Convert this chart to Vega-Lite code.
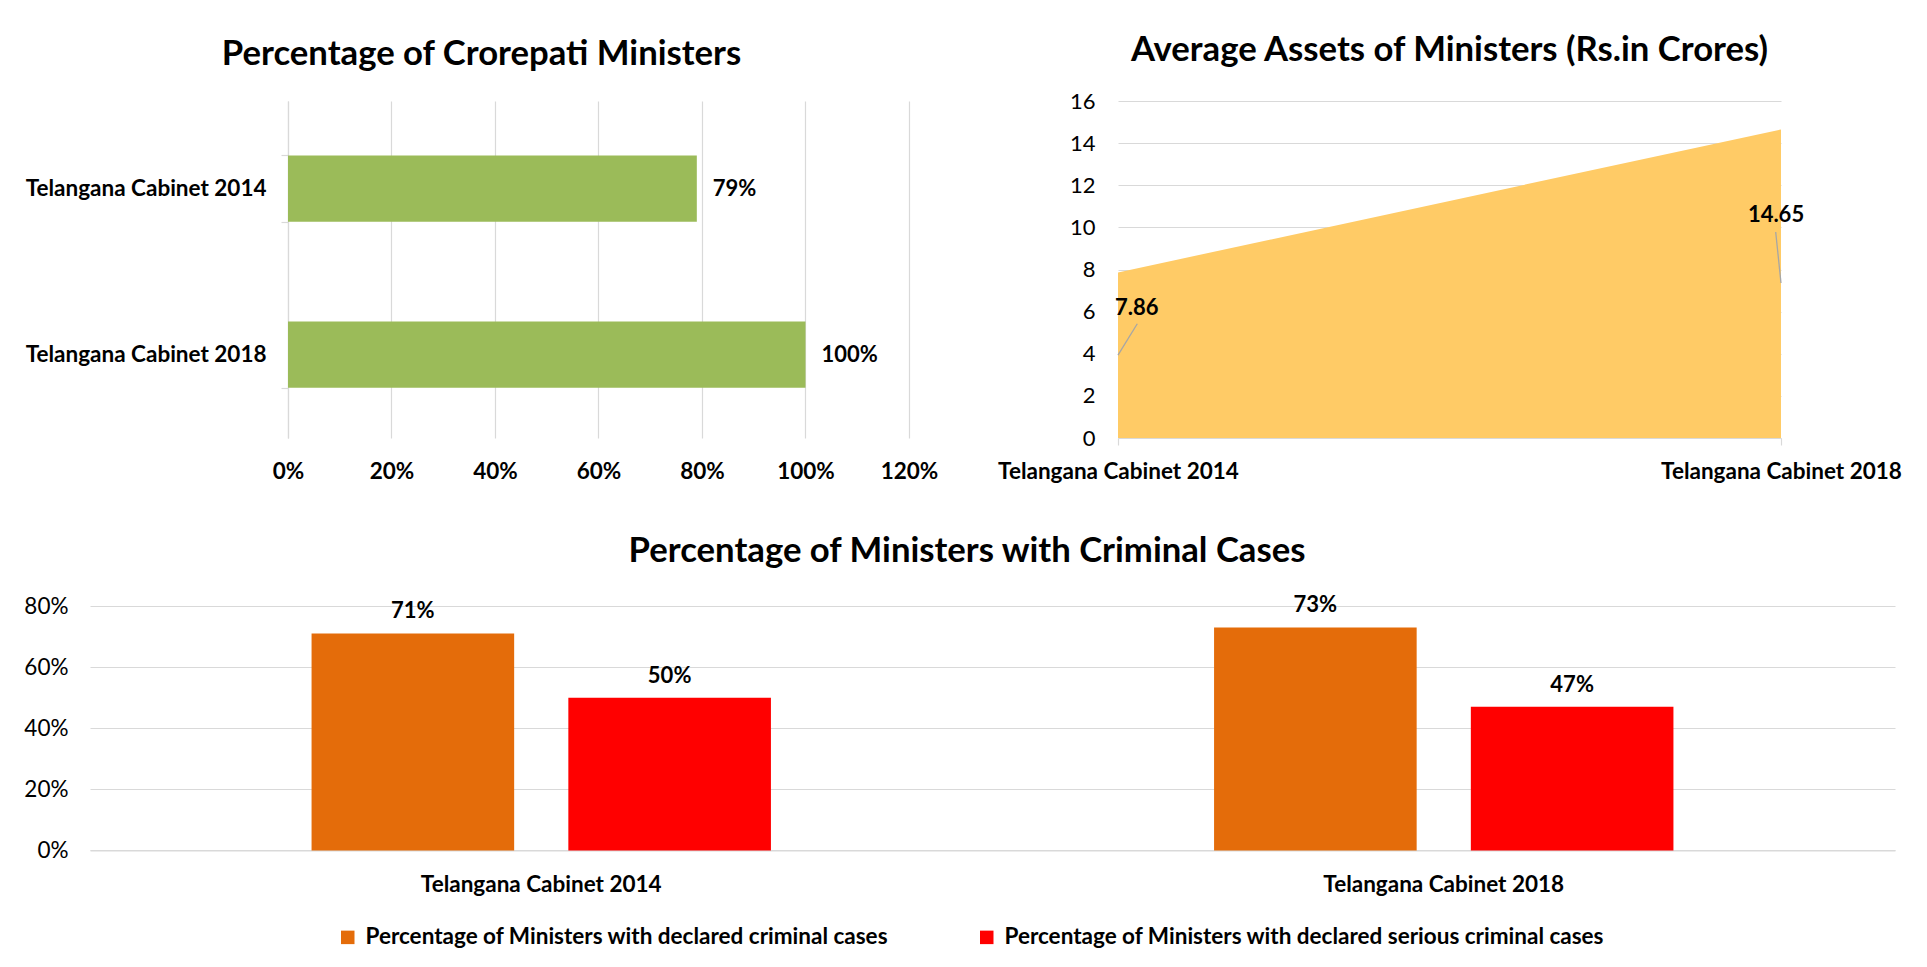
{
  "$schema": "https://vega.github.io/schema/vega-lite/v6.json",
  "padding": {"left": 20, "top": 33, "right": 0, "bottom": 0},
  "background": "white",
  "config": {
    "view": {"stroke": null},
    "font": "Lato",
    "title": {"font": "Lato", "fontSize": 34.7, "fontWeight": "bold", "color": "#000000", "anchor": "middle", "frame": "bounds"},
    "axis": {"labelFont": "Lato", "labelColor": "#000000", "labelLimit": 1000, "gridColor": "#D9D9D9", "gridWidth": 1.2, "domainColor": "#D9D9D9", "domainWidth": 1.2, "tickColor": "#D9D9D9", "tickWidth": 1.2}
  },
  "spacing": 50,
  "bounds": "full",
  "vconcat": [
    {
      "spacing": 209,
      "bounds": "flush",
      "hconcat": [
        {
          "width": 819,
          "height": 337,
          "title": {"text": "Percentage of Crorepati Ministers", "offset": 17},
          "data": {"values": [
            {"cabinet": "Telangana Cabinet 2014", "pct": 0.79},
            {"cabinet": "Telangana Cabinet 2018", "pct": 1.0}
          ]},
          "encoding": {
            "y": {"field": "cabinet", "type": "nominal", "sort": null, "title": null,
              "scale": {"paddingInner": 0.6, "paddingOuter": 0.315, "align": 0.52},
              "axis": {"offset": -198, "domain": true, "ticks": true, "tickSize": 7, "tickBand": "extent", "labelPadding": 15, "labelFontSize": 22.5, "labelFontWeight": "bold", "grid": false}},
            "x": {"field": "pct", "type": "quantitative", "title": null,
              "scale": {"domain": [-0.3826, 1.2], "nice": false, "zero": false},
              "axis": {"values": [0, 0.2, 0.4, 0.6, 0.8, 1, 1.2], "format": ".0%", "domain": false, "ticks": false, "tickSize": 0, "labelPadding": 22, "labelFontSize": 22.5, "labelFontWeight": "bold", "labelFlush": false, "grid": true, "minExtent": 45}}
          },
          "layer": [
            {"mark": {"type": "bar", "color": "#9BBB59"}},
            {"mark": {"type": "text", "align": "left", "baseline": "middle", "dx": 16, "fontSize": 22, "fontWeight": "bold", "color": "#000000", "font": "Lato"},
             "encoding": {"text": {"field": "pct", "type": "quantitative", "format": ".0%"}}}
          ]
        },
        {
          "width": 663,
          "height": 337,
          "title": {"text": "Average Assets of Ministers (Rs.in Crores)", "offset": 21},
          "data": {"values": [
            {"cabinet": "Telangana Cabinet 2014", "assets": 7.86},
            {"cabinet": "Telangana Cabinet 2018", "assets": 14.65}
          ]},
          "encoding": {
            "x": {"field": "cabinet", "type": "ordinal", "sort": null, "title": null,
              "scale": {"type": "point", "padding": 0},
              "axis": {"labelAngle": 0, "domain": true, "ticks": true, "tickSize": 7, "labelPadding": 15, "labelFontSize": 22.5, "labelFontWeight": "bold", "grid": false, "minExtent": 45}},
            "y": {"field": "assets", "type": "quantitative", "title": null,
              "scale": {"domain": [0, 16], "nice": false},
              "axis": {"values": [0, 2, 4, 6, 8, 10, 12, 14, 16], "domain": false, "ticks": false, "tickSize": 0, "labelPadding": 23, "labelFontSize": 22, "grid": true}}
          },
          "layer": [
            {"mark": {"type": "area", "color": "#FFCB66", "opacity": 1}},
            {"transform": [{"filter": "datum.cabinet == 'Telangana Cabinet 2014'"}],
             "mark": {"type": "rule", "color": "#A6A6A6", "strokeWidth": 1.3, "yOffset": 82.6, "y2Offset": 51.3, "x2Offset": 19.3},
             "encoding": {"x2": {"field": "cabinet"}, "y2": {"field": "assets"}}},
            {"transform": [{"filter": "datum.cabinet == 'Telangana Cabinet 2018'"}],
             "mark": {"type": "rule", "color": "#A6A6A6", "strokeWidth": 1.3, "yOffset": 153.6, "y2Offset": 102.6, "x2Offset": -5.3},
             "encoding": {"x2": {"field": "cabinet"}, "y2": {"field": "assets"}}},
            {"transform": [{"filter": "datum.cabinet == 'Telangana Cabinet 2014'"}],
             "mark": {"type": "text", "align": "center", "baseline": "middle", "dx": 18.7, "dy": 35.3, "fontSize": 22, "fontWeight": "bold", "color": "#000000", "font": "Lato"},
             "encoding": {"text": {"field": "assets", "type": "quantitative", "format": ".2f"}}},
            {"transform": [{"filter": "datum.cabinet == 'Telangana Cabinet 2018'"}],
             "mark": {"type": "text", "align": "center", "baseline": "middle", "dx": -5, "dy": 85.6, "fontSize": 22, "fontWeight": "bold", "color": "#000000", "font": "Lato"},
             "encoding": {"text": {"field": "assets", "type": "quantitative", "format": ".2f"}}}
          ]
        }
      ]
    },
    {
      "width": 1805,
      "height": 244.4,
      "title": {"text": "Percentage of Ministers with Criminal Cases", "offset": 25, "dx": 9.5},
      "data": {"values": [
        {"cabinet": "Telangana  Cabinet 2014", "series": "Percentage  of Ministers with declared criminal cases", "pct": 0.71},
        {"cabinet": "Telangana  Cabinet 2014", "series": "Percentage of Ministers with declared serious criminal cases", "pct": 0.50},
        {"cabinet": "Telangana  Cabinet 2018", "series": "Percentage  of Ministers with declared criminal cases", "pct": 0.73},
        {"cabinet": "Telangana  Cabinet 2018", "series": "Percentage of Ministers with declared serious criminal cases", "pct": 0.47}
      ]},
      "encoding": {
        "x": {"field": "cabinet", "type": "nominal", "sort": null, "title": null,
          "scale": {"paddingInner": 0.491, "paddingOuter": 0.2455},
          "axis": {"labelAngle": 0, "domain": true, "ticks": false, "tickSize": 0, "labelPadding": 23, "labelFontSize": 22.5, "labelFontWeight": "bold", "grid": false}},
        "xOffset": {"field": "series", "type": "nominal", "sort": null,
          "scale": {"paddingInner": 0.211, "paddingOuter": 0}},
        "y": {"field": "pct", "type": "quantitative", "title": null,
          "scale": {"domain": [0, 0.8], "nice": false},
          "axis": {"values": [0, 0.2, 0.4, 0.6, 0.8], "format": ".0%", "domain": false, "ticks": false, "tickSize": 0, "labelPadding": 22, "labelFontSize": 22.5, "grid": true, "minExtent": 70}}
      },
      "layer": [
        {"mark": {"type": "bar"},
         "encoding": {
           "color": {"field": "series", "type": "nominal", "sort": null,
             "scale": {"domain": ["Percentage  of Ministers with declared criminal cases", "Percentage of Ministers with declared serious criminal cases"], "range": ["#E46C0A", "#FF0000"]},
             "legend": {"orient": "none", "legendX": 246.5, "legendY": 825, "direction": "horizontal", "title": null,
               "symbolType": "square", "symbolSize": 182, "symbolStrokeWidth": 0, "symbolOpacity": 1,
               "labelFontSize": 22.5, "labelFontWeight": "bold", "labelColor": "#000000", "labelFont": "Lato",
               "labelOffset": 6.5, "columnPadding": 81, "labelLimit": 1000}}
         }},
        {"mark": {"type": "text", "align": "center", "baseline": "middle", "dy": -22, "fontSize": 22, "fontWeight": "bold", "color": "#000000", "font": "Lato"},
         "encoding": {"text": {"field": "pct", "type": "quantitative", "format": ".0%"}}}
      ]
    }
  ]
}
